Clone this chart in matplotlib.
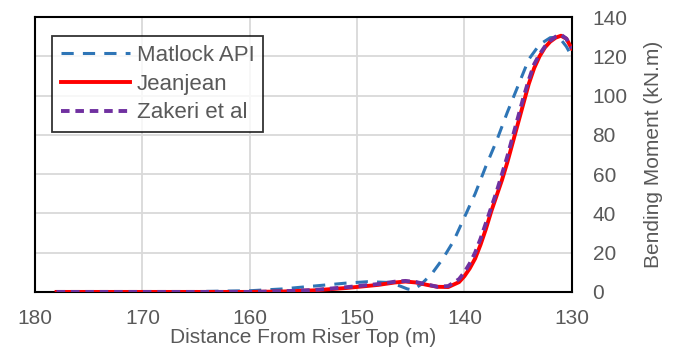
import matplotlib
matplotlib.use("Agg")
import matplotlib.pyplot as plt

# Data
matlock_x = [178, 170, 165, 160, 157, 154, 151, 149, 147, 146, 145.3, 144.8, 144, 143, 142, 141, 140, 139, 138, 137, 136, 135, 134, 133, 132, 131.5, 131, 130.5, 130]
matlock_y = [0, 0, 0.2, 0.6, 1.5, 3, 4.5, 5.2, 4.8, 3.0, 1.5, 1.0, 4, 9.5, 17, 26, 38, 50, 64, 77, 91.5, 105, 118.5, 126, 129.5, 129.7, 128.5, 125, 120]

jean_x = [178, 170, 160, 157, 154, 151, 148, 146.5, 145.5, 144.5, 143.5, 142.5, 141.5, 140.5, 140, 139.5, 139, 138.5, 138, 137.5, 137, 136.5, 136, 135.5, 135, 134.5, 134, 133.5, 133, 132.5, 132, 131.5, 131, 130.5, 130]
jean_y = [0, 0, 0, 0.2, 0.8, 2, 3.6, 4.8, 5.3, 4.8, 3.6, 2.6, 2.5, 5.0, 8, 12, 17, 24, 32, 41, 49, 57, 66, 76, 86, 96, 106, 114, 120, 124.5, 127.5, 129.5, 130.5, 129, 124]

zak_x = jean_x
zak_y = [0, 0, 0, 0.3, 1.0, 2.4, 4.0, 5.2, 5.6, 5.0, 3.8, 2.6, 3, 6.5, 10, 14.5, 20, 27, 35, 43, 51, 60, 69, 79, 89, 99, 108, 116, 121, 125, 128, 130, 131, 129, 124]

x_ticks = [180, 170, 160, 150, 140, 130]
y_ticks = [0, 20, 40, 60, 80, 100, 120, 140]

plt.rcParams['font.family'] = ['Liberation Sans', 'DejaVu Sans']
gray = '#595959'

fig = plt.figure(figsize=(6.75, 3.56), dpi=100)
ax = fig.add_axes([0.052, 0.18, 0.795, 0.772])

ax.plot(matlock_x, matlock_y, color='#2E75B6', lw=2.2, ls=(0, (4, 3)), label='Matlock API', zorder=3)
ax.plot(jean_x, jean_y, color='#FF0000', lw=2.8, ls='-', label='Jeanjean', zorder=4)
ax.plot(zak_x, zak_y, color='#7030A0', lw=2.8, ls=(0, (2.2, 1.5)), label='Zakeri et al', zorder=5)

ax.set_xlim(180, 130)
ax.set_ylim(0, 140)
ax.set_xticks(x_ticks)
ax.set_yticks(y_ticks)
ax.yaxis.tick_right()
ax.yaxis.set_label_position('right')
ax.grid(True, color='#D9D9D9', lw=1.3)
ax.set_axisbelow(True)
for s in ax.spines.values():
    s.set_color('black')
    s.set_linewidth(1.5)
ax.tick_params(axis='both', length=0, labelsize=15, colors=gray)
ax.tick_params(axis='x', pad=12)
ax.tick_params(axis='y', pad=15)
ax.set_xlabel('Distance From Riser Top (m)', fontsize=15, color=gray, labelpad=0)
ax.set_ylabel('Bending Moment (kN.m)', fontsize=15, color=gray, labelpad=12)

leg = ax.legend(loc='upper left', bbox_to_anchor=(0.032, 0.931), fontsize=16, frameon=True,
                fancybox=False, edgecolor='black', handlelength=3.1, handletextpad=0.3,
                borderpad=0.4, labelspacing=0.35, borderaxespad=0)
leg.get_frame().set_linewidth(1.3)
for t in leg.get_texts():
    t.set_color(gray)

fig.savefig('out.png', dpi=100)
